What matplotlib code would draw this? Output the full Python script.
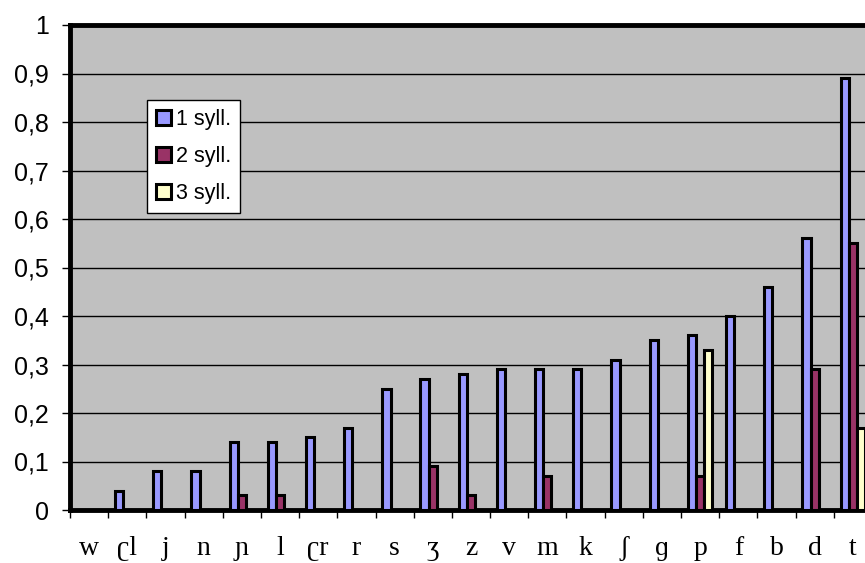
import numpy as np
import matplotlib
matplotlib.use("Agg")
import matplotlib.pyplot as plt
from matplotlib.ticker import FixedLocator, FuncFormatter

categories = ["w", "ʗl", "j", "n", "ɲ", "l", "ʗr", "r", "s", "ʒ", "z",
              "v", "m", "k", "ʃ", "ɡ", "p", "f", "b", "d", "t"]
syll1 = [0.00, 0.04, 0.08, 0.08, 0.14, 0.14, 0.15, 0.17, 0.25, 0.27, 0.28,
         0.29, 0.29, 0.29, 0.31, 0.35, 0.36, 0.40, 0.46, 0.56, 0.89]
syll2 = [0.00, 0.00, 0.00, 0.00, 0.03, 0.03, 0.00, 0.00, 0.00, 0.09, 0.03,
         0.00, 0.07, 0.00, 0.00, 0.00, 0.07, 0.00, 0.00, 0.29, 0.55]
syll3 = [0.00, 0.00, 0.00, 0.00, 0.00, 0.00, 0.00, 0.00, 0.00, 0.00, 0.00,
         0.00, 0.00, 0.00, 0.00, 0.00, 0.33, 0.00, 0.00, 0.00, 0.17]
series_labels = ["1 syll.", "2 syll.", "3 syll."]
y_ticks = [0, 0.1, 0.2, 0.3, 0.4, 0.5, 0.6, 0.7, 0.8, 0.9, 1.0]

colors = ["#9999FF", "#993366", "#FFFFCC"]
sans = ["Liberation Sans", "DejaVu Sans"]
serif = ["Liberation Serif", "DejaVu Serif"]

fig = plt.figure(figsize=(8.65, 5.63), dpi=100)
fig.patch.set_facecolor("white")
ax = fig.add_axes([70 / 865, 53 / 563, 802 / 865, 485 / 563])
ax.set_facecolor("#C0C0C0")

x = np.arange(len(categories))
w = 0.215
handles = []
for i, (vals, col, lab) in enumerate(zip([syll1, syll2, syll3], colors, series_labels)):
    b = ax.bar(x + (i - 1) * w, vals, width=w, color=col, edgecolor="black",
               linewidth=2.2, label=lab, zorder=3)
    handles.append(b)

ax.set_xlim(-0.5, len(categories) - 0.5)
ax.set_ylim(0, 1)

# horizontal gridlines
ax.set_yticks(y_ticks)
ax.yaxis.grid(True, color="black", linewidth=1.0, zorder=1)
ax.set_axisbelow(True)
ax.yaxis.set_major_formatter(FuncFormatter(
    lambda v, p: "0" if v == 0 else ("1" if v == 1 else f"{v:.1f}".replace(".", ","))))
ax.tick_params(axis="y", direction="out", length=6, width=1, pad=9,
               labelsize=18, colors="black")
for t in ax.get_yticklabels():
    t.set_fontfamily(sans)

# category boundaries get tick marks, centres get the labels
ax.xaxis.set_major_locator(FixedLocator(np.arange(len(categories) + 1) - 0.5))
ax.xaxis.set_major_formatter(FuncFormatter(lambda v, p: ""))
ax.xaxis.set_minor_locator(FixedLocator(x))
ax.set_xticklabels(categories, minor=True)
ax.tick_params(axis="x", which="major", direction="out", length=6, width=1)
ax.tick_params(axis="x", which="minor", length=0, pad=19, labelsize=20)
for t in ax.get_xticklabels(minor=True):
    t.set_fontfamily(serif)

for side in ["left", "top", "bottom"]:
    ax.spines[side].set_linewidth(3.5)
    ax.spines[side].set_color("black")
ax.spines["right"].set_visible(False)

leg = ax.legend(handles=handles, loc="upper left",
                bbox_to_anchor=((147 - 70) / 802, (510 - 100) / 485),
                prop={"family": sans, "size": 15.5}, frameon=True, fancybox=False,
                framealpha=1, edgecolor="black", handlelength=0.7,
                handleheight=0.7, handletextpad=0.25, borderpad=0.4,
                labelspacing=0.75, borderaxespad=0)
leg.get_frame().set_linewidth(1.0)
leg.set_zorder(5)

fig.savefig("out.png", dpi=100)
